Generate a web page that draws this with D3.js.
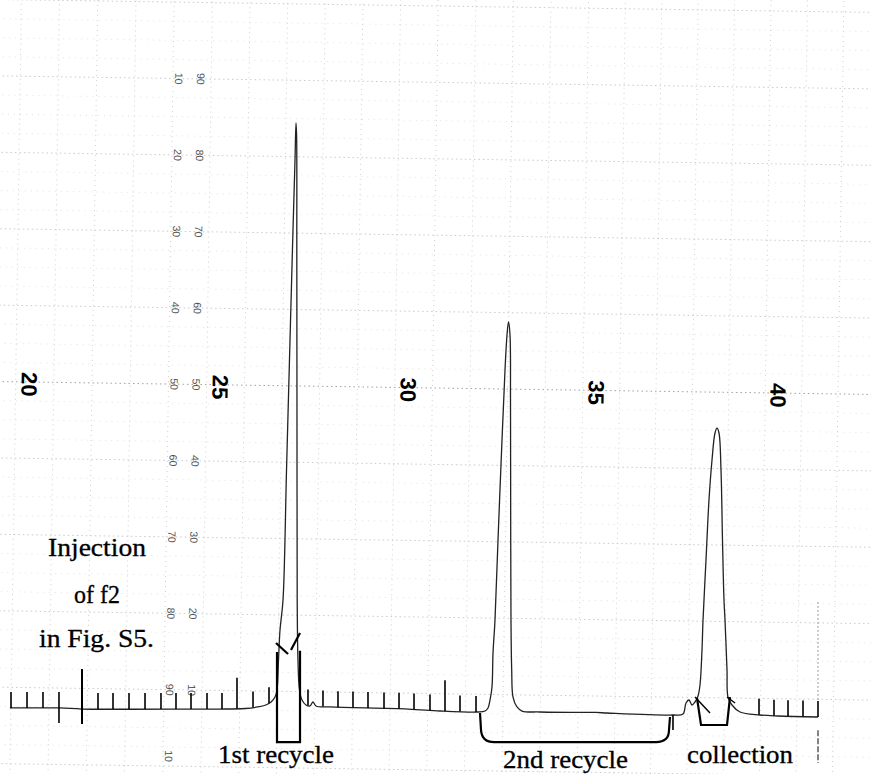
<!DOCTYPE html>
<html><head><meta charset="utf-8">
<script src="https://cdn.jsdelivr.net/npm/d3@7"></script>
<style>body{margin:0;background:#fff}svg{display:block}</style>
</head><body><svg id="c" width="871" height="774"></svg>
<script>
// ---------------- data ----------------
const timeLabels = [20, 25, 30, 35, 40];                 // min (bold, rotated)
const recorderScale = [10, 20, 30, 40, 50, 60, 70, 80, 90]; // chart-paper scale (%)
const traceTime = [19.50,20.81,21.39,24.48,25.00,25.67,26.01,26.22,26.36,26.463,26.516,26.556,26.596,26.676,26.769,26.862,26.941,26.995,27.021,27.037,27.043,27.048,27.053,27.074,27.114,27.181,27.287,27.394,27.473,27.553,27.926,30.000,30.851,31.862,32.048,32.128,32.181,32.234,32.261,32.314,32.394,32.500,32.580,32.633,32.673,32.713,32.726,32.731,32.739,32.758,32.793,32.899,33.032,33.511,35.000,35.302,37.115,37.390,37.473,37.555,37.637,37.720,37.802,37.857,37.912,37.940,38.022,38.104,38.187,38.269,38.324,38.379,38.434,38.475,38.516,38.544,38.599,38.626,38.736,38.956,39.505,40.000,41.099];
const traceSignal = [8.12,8.12,7.98,7.98,7.98,8.05,8.25,8.51,8.90,9.55,10.47,14.40,18.32,22.25,39.27,56.28,70.68,79.84,84.69,83.12,68.06,41.88,22.25,14.40,10.47,9.16,8.51,8.38,8.90,8.38,8.25,7.98,7.72,7.59,7.72,8.12,9.16,10.86,15.31,19.63,30.10,43.19,52.36,56.94,58.64,56.94,48.43,32.72,19.63,13.09,9.55,8.25,7.72,7.59,7.53,7.46,7.20,7.33,8.77,9.16,8.51,8.90,9.69,11.13,15.71,19.63,27.49,35.34,40.58,44.11,44.76,44.11,39.27,30.10,22.25,19.63,13.09,9.55,8.51,7.59,7.20,7.07,6.94];
const tickTimes = [19.529,19.948,20.366,20.785,21.806,22.199,22.618,23.037,23.455,23.848,24.241,24.660,25.053,25.878,26.303,27.340,27.739,28.138,28.537,28.936,29.362,29.761,30.160,30.585,31.383,31.809,39.478,39.890,40.275,40.687,41.099];
const tallTickTimes = [25.452, 30.984];
const eventTimes = [21.387];
const downTickTimes = [20.785, 37.115];
const fractionNames = ["1st recycle", "2nd recycle", "collection"];
const fractionStart = [26.516, 31.915, 37.775];
const fractionEnd = [27.128, 37.033, 38.681];
const noteLines = ["Injection", "of f2", "in Fig. S5."];

// ---------------- scales ----------------
const svg = d3.select("#c");
const x = d3.scaleLinear().domain(timeLabels).range([29, 220, 408, 596, 778]);
const y = d3.scaleLinear().domain([0, 100]).range([770, 6]);

function signalAt(t) {
  const i = Math.max(0, Math.min(traceTime.length - 2, d3.bisectRight(traceTime, t) - 1));
  const f = (t - traceTime[i]) / (traceTime[i + 1] - traceTime[i]);
  return traceSignal[i] + f * (traceSignal[i + 1] - traceSignal[i]);
}

const sans = "'Liberation Sans', Arial, Helvetica, sans-serif";
const narrow = "'Liberation Sans Narrow', 'Liberation Sans', Arial, sans-serif";
const serif = "'Liberation Serif', 'Times New Roman', Times, serif";

// ---------------- chart paper (slightly tilted scan) ----------------
const paper = svg.append("g").attr("transform", "rotate(0.85,435,388)");
const gridT = d3.range(19, 43).map(k => k - 0.35);
paper.selectAll("line.vg").data(gridT).join("line")
  .attr("x1", d => x(d)).attr("x2", d => x(d)).attr("y1", -20).attr("y2", 800)
  .attr("stroke", "#c4c4c4").attr("stroke-width", 0.8).attr("stroke-dasharray", "1,4");
const gridMinor = d3.range(-2.5, 102, 2.5).filter(v => v % 10 !== 0);
paper.selectAll("line.hm").data(gridMinor).join("line")
  .attr("x1", -20).attr("x2", 900).attr("y1", d => y(d)).attr("y2", d => y(d))
  .attr("stroke", "#d6d6d6").attr("stroke-width", 0.7).attr("stroke-dasharray", "1,5");
paper.selectAll("line.hM").data(d3.range(0, 101, 10)).join("line")
  .attr("x1", -20).attr("x2", 900).attr("y1", d => y(d)).attr("y2", d => y(d))
  .attr("stroke", d => d === 50 ? "#8a8a8a" : "#bdbdbd").attr("stroke-width", 0.8).attr("stroke-dasharray", "1.5,3");

// recorder scale labels (two columns, rotated)
const colLeft = 174.5, colRight = 196.5;
function scaleLabel(sel) {
  return sel.attr("text-anchor", "middle").attr("dominant-baseline", "central")
    .attr("font-family", narrow).attr("font-size", 10.5).attr("fill", "#555");
}
paper.selectAll("text.sl").data(recorderScale).join("text")
  .attr("transform", d => `translate(${colLeft},${y(d)}) rotate(90)`).call(scaleLabel).text(d => 100 - d);
paper.selectAll("text.sr").data(recorderScale).join("text")
  .attr("transform", d => `translate(${colRight},${y(d)}) rotate(90)`).call(scaleLabel).text(d => d);
paper.append("text").attr("transform", `translate(${colLeft},${y(1.3)}) rotate(90)`).call(scaleLabel).text("10");

// time labels
paper.selectAll("text.tl").data(timeLabels).join("text")
  .attr("transform", d => `translate(${x(d)},${y(49.7)}) rotate(90)`)
  .attr("text-anchor", "middle").attr("dominant-baseline", "central")
  .attr("font-family", sans).attr("font-weight", "bold").attr("font-size", 22)
  .attr("fill", "#000").text(d => d);

// ---------------- trace ----------------
const pts = traceTime.map((t, i) => [t, traceSignal[i]]);
svg.append("path").datum(pts)
  .attr("d", d3.line().x(d => x(d[0])).y(d => y(d[1])).curve(d3.curveCatmullRom.alpha(0.5)))
  .attr("fill", "none").attr("stroke", "#222").attr("stroke-width", 1.3).attr("stroke-linejoin", "round");

// event ticks
const tk = svg.append("g").attr("stroke", "#000").attr("stroke-width", 1.6);
tk.selectAll("line.t").data(tickTimes).join("line")
  .attr("x1", d => x(d)).attr("x2", d => x(d))
  .attr("y1", d => y(signalAt(d))).attr("y2", d => y(signalAt(d)) - 16);
tk.selectAll("line.tt").data(tallTickTimes).join("line")
  .attr("x1", d => x(d)).attr("x2", d => x(d))
  .attr("y1", d => y(signalAt(d))).attr("y2", d => y(signalAt(d)) - 31);
tk.selectAll("line.ev").data(eventTimes).join("line")
  .attr("x1", d => x(d)).attr("x2", d => x(d))
  .attr("y1", d => y(signalAt(d)) + 15).attr("y2", d => y(signalAt(d)) - 40).attr("stroke-width", 2);
tk.selectAll("line.dn").data(downTickTimes).join("line")
  .attr("x1", d => x(d)).attr("x2", d => x(d))
  .attr("y1", d => y(signalAt(d))).attr("y2", d => y(signalAt(d)) + 15);

// end-of-run marker
svg.append("line").attr("x1", x(41.099)).attr("x2", x(41.099)).attr("y1", y(22)).attr("y2", y(signalAt(41.099)) - 16)
  .attr("stroke", "#999").attr("stroke-width", 1).attr("stroke-dasharray", "2,2");
svg.append("line").attr("x1", x(41.099)).attr("x2", x(41.099)).attr("y1", y(5.2)).attr("y2", y(0.9))
  .attr("stroke", "#333").attr("stroke-width", 1.2).attr("stroke-dasharray", "6,2");

// ---------------- fraction brackets ----------------
const br = svg.append("g").attr("fill", "none").attr("stroke", "#000").attr("stroke-width", 2.2);
{
  const a = x(fractionStart[0]), b = x(fractionEnd[0]);
  br.append("path").attr("d", `M${a},${y(15.45)}L${a},${y(3.66)}L${b},${y(3.66)}L${b},${y(15.6)}`);
  br.append("line").attr("x1", x(26.489)).attr("y1", y(16.62)).attr("x2", x(26.809)).attr("y2", y(15.18));
  br.append("line").attr("x1", x(26.888)).attr("y1", y(15.71)).attr("x2", x(27.128)).attr("y2", y(17.93));
}
{
  const a = x(fractionStart[1]), b = x(fractionEnd[1]), yb = y(3.66), r = 12;
  br.append("path").attr("d",
    `M${a},${y(7.46)}L${a + 1},${yb - r}Q${a + 2},${yb} ${a + r + 2},${yb}L${b - r - 2},${yb}Q${b - 1},${yb} ${b - 1},${yb - r}L${b},${y(6.94)}`);
}
{
  const a = x(fractionStart[2]), b = x(fractionEnd[2]);
  br.append("path").attr("d", `M${a},${y(9.42)}L${x(37.885)},${y(5.89)}L${x(38.599)},${y(5.89)}L${b},${y(9.55)}`);
  br.append("line").attr("x1", x(37.720)).attr("y1", y(9.55)).attr("x2", x(38.132)).attr("y2", y(7.46)).attr("stroke-width", 1.4);
  br.append("line").attr("x1", x(38.599)).attr("y1", y(9.55)).attr("x2", x(38.819)).attr("y2", y(8.77)).attr("stroke-width", 1.4);
}

// ---------------- labels ----------------
const labelPos = [[218, 763, 116], [503, 768, 125], [687, 763, 106]];
svg.selectAll("text.fr").data(fractionNames).join("text")
  .attr("x", (d, i) => labelPos[i][0]).attr("y", (d, i) => labelPos[i][1])
  .attr("textLength", (d, i) => labelPos[i][2]).attr("lengthAdjust", "spacingAndGlyphs")
  .attr("font-family", serif).attr("font-size", 25).attr("fill", "#000")
  .attr("stroke", "#000").attr("stroke-width", 0.3).text(d => d);
const notePos = [[48, 556, 98], [74, 603, 46], [39, 647, 115]];
svg.selectAll("text.nt").data(noteLines).join("text")
  .attr("x", (d, i) => notePos[i][0]).attr("y", (d, i) => notePos[i][1])
  .attr("textLength", (d, i) => notePos[i][2]).attr("lengthAdjust", "spacingAndGlyphs")
  .attr("font-family", serif).attr("font-size", 25).attr("fill", "#000")
  .attr("stroke", "#000").attr("stroke-width", 0.3).text(d => d);
</script></body></html>
